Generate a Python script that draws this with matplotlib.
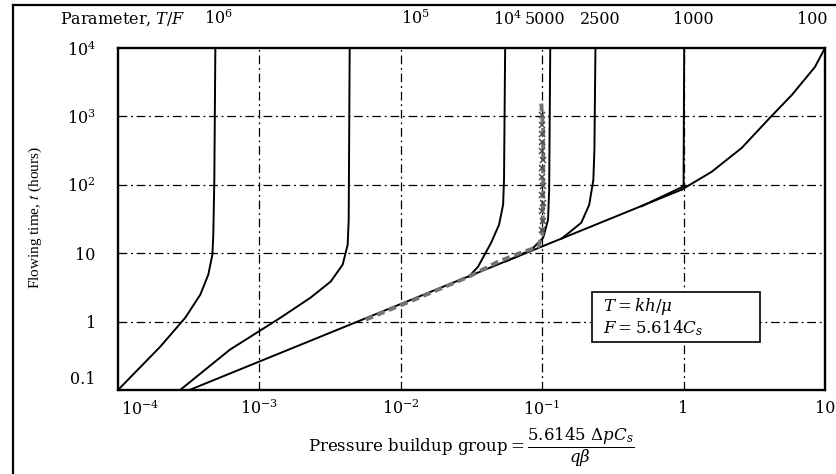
import numpy as np
import matplotlib
matplotlib.use("Agg")
import matplotlib.pyplot as plt
from matplotlib.lines import Line2D
from matplotlib.patches import Rectangle
from matplotlib.ticker import FixedLocator, NullLocator, FixedFormatter
from matplotlib.transforms import ScaledTranslation

# the scan is stretched sideways, so a wide serif stands in for Times
plt.rcParams['font.family'] = ['DejaVu Serif']
plt.rcParams['mathtext.fontset'] = 'dejavuserif'

# type-curve data: x = pressure buildup group, t = hours
base_x = [3.2e-4, 0.97]
base_t = [0.1, 85]

c1e6_x = [1e-4, 1.99e-4, 2.99e-4, 3.82e-4, 4.35e-4, 4.65e-4, 4.72e-4, 4.80e-4, 4.88e-4]
c1e6_t = [0.1, 0.43, 1.14, 2.48, 4.85, 9.5, 18.6, 118, 1e4]

c1e5_x = [2.75e-4, 6.2e-4, 1.41e-3, 2.30e-3, 3.19e-3, 3.88e-3, 4.21e-3, 4.28e-3, 4.35e-3]
c1e5_t = [0.1, 0.39, 1.14, 2.24, 3.84, 6.8, 13.3, 30.8, 1e4]

c1e4_x = [0.0303, 0.0352, 0.0435, 0.0495, 0.0529, 0.0537, 0.0547]
c1e4_t = [4.54, 6.35, 14.2, 26, 51, 118, 1e4]

c5000_x = [0.0556, 0.0836, 0.1016, 0.110, 0.112, 0.114]
c5000_t = [7.6, 11.2, 16.8, 30.8, 84.5, 1e4]

# field data plotted as a dashed trace with x marks
meas_x = [5.65e-3, 0.0139, 0.0303, 0.0487, 0.071, 0.0937, 0.100, 0.1016, 0.1016, 0.0984]
meas_t = [1.07, 2.3, 4.54, 7.5, 10.2, 12.4, 18.6, 60, 635, 1570]
mark_x = [0.100, 0.101, 0.100, 0.101, 0.100, 0.101, 0.100, 0.100, 0.101, 0.100,
          0.099, 0.100, 0.099, 0.099]
mark_t = [22, 30, 41, 55, 72, 95, 130, 175, 230, 310, 420, 560, 760, 1050]

c2500_x = [0.1365, 0.189, 0.215, 0.230, 0.234, 0.238]
c2500_t = [16.2, 27.9, 51, 118, 324, 1e4]

c1000_x = [0.504, 1.0, 1.0, 1.01]
c1000_t = [48.6, 95, 166, 1e4]

c100_x = [0.97, 1.58, 2.58, 4.07, 5.83, 8.49, 10]
c100_t = [85, 155, 347, 951, 2060, 5280, 1e4]

xticks = [1e-4, 1e-3, 1e-2, 1e-1, 1, 10]
xlabels = [r'$10^{-4}$', r'$10^{-3}$', r'$10^{-2}$', r'$10^{-1}$', '1', '10']
yticks = [0.1, 1, 10, 100, 1000, 1e4]
ylabels = ['0.1', '1', '10', r'$10^{2}$', r'$10^{3}$', r'$10^{4}$']

params = [r'$10^{6}$', r'$10^{5}$', r'$10^{4}$', '5000', '2500', '1000', '100']
param_x = [218, 415, 508, 545, 600, 693, 812]   # label centres, pixels

fig = plt.figure(figsize=(8.36, 4.74), dpi=100)
ax = fig.add_axes([118/836, 1-390/474, 707/836, 342/474])
ax.set_xscale('log')
ax.set_yscale('log')
ax.set_xlim(1e-4, 10)
ax.set_ylim(0.1, 1e4)

dashdot = (0, (7, 3, 1.5, 3))
for v in [1e-3, 1e-2, 1e-1, 1]:
    ax.axvline(v, color='k', lw=0.9, ls=dashdot, zorder=1)
for v in [1, 10, 100, 1000]:
    ax.axhline(v, color='k', lw=0.9, ls=dashdot, zorder=1)

lw = 1.4
for xs, ts in [(base_x, base_t), (c1e6_x, c1e6_t), (c1e5_x, c1e5_t), (c1e4_x, c1e4_t),
               (c5000_x, c5000_t), (c2500_x, c2500_t), (c1000_x, c1000_t), (c100_x, c100_t)]:
    ax.plot(xs, ts, color='k', lw=lw, zorder=3)

ax.plot(meas_x, meas_t, color='0.45', lw=2.8, ls=(0, (2, 1.2)), zorder=4)
ax.plot(mark_x, mark_t, color='0.3', lw=0, marker='x', ms=4, mew=1.1, zorder=4)

ax.xaxis.set_major_locator(FixedLocator(xticks))
ax.xaxis.set_major_formatter(FixedFormatter(xlabels))
ax.xaxis.set_minor_locator(NullLocator())
ax.yaxis.set_major_locator(FixedLocator(yticks))
ax.yaxis.set_major_formatter(FixedFormatter(ylabels))
ax.yaxis.set_minor_locator(NullLocator())
ax.tick_params(axis='x', length=0, pad=7, labelsize=11.5)
ax.tick_params(axis='y', length=0, pad=16, labelsize=11.5)
for s in ax.spines.values():
    s.set_linewidth(1.7)

# corner labels sit off their ticks in the original
xt = ax.xaxis.get_major_ticks()
yt = ax.yaxis.get_major_ticks()
xt[0].label1.set_transform(xt[0].label1.get_transform()
                           + ScaledTranslation(0.22, 0, fig.dpi_scale_trans))
yt[0].label1.set_transform(yt[0].label1.get_transform()
                           + ScaledTranslation(0, 0.12, fig.dpi_scale_trans))

# T/F parameter labels along the top
fig.text(60/836, 1-19/474, r'Parameter, $T/F$', fontsize=11.5, va='center', ha='left')
for lab, px in zip(params, param_x):
    fig.text(px/836, 1-19/474, lab, fontsize=11.5, va='center', ha='center')

# legend box
ax.add_patch(Rectangle((0.670, 0.140), 0.238, 0.147, transform=ax.transAxes,
                       fill=True, facecolor='white', edgecolor='k', lw=1.2, zorder=5))
ax.text(0.686, 0.245, r'$T = kh/\mu$', transform=ax.transAxes, fontsize=12,
        va='center', zorder=6)
ax.text(0.686, 0.180, r'$F = 5.614C_s$', transform=ax.transAxes, fontsize=12,
        va='center', zorder=6)

fig.text(35/836, 1-218/474, r'Flowing time, $t$ (hours)', rotation=90,
         fontsize=11, ha='center', va='center', family='Liberation Serif',
         math_fontfamily='stix')
fig.text(471/836, 1-447/474,
         r'Pressure buildup group$=\dfrac{5.6145\ \Delta pC_s}{q\beta}$',
         fontsize=12, ha='center', va='center')

# outer frame of the scanned figure
fig.add_artist(Line2D([13/836, 13/836], [0, 1-5/474], color='k', lw=1.6,
                      transform=fig.transFigure))
fig.add_artist(Line2D([13/836, 1], [1-5/474, 1-5/474], color='k', lw=1.6,
                      transform=fig.transFigure))

fig.savefig('out.png', dpi=100)
